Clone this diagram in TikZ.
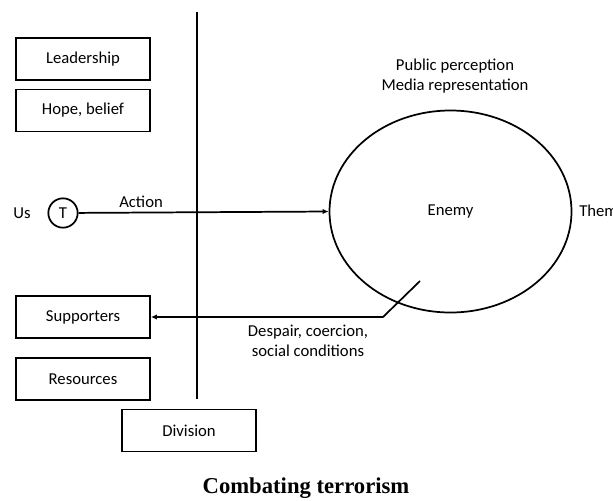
\documentclass[tikz,border=0pt]{standalone}
\usepackage{fontspec}
\setmainfont{Carlito}
\newfontfamily\capfont{Liberation Serif}
\usetikzlibrary{shapes.geometric,arrows.meta}

\begin{document}
\begin{tikzpicture}[x=0.75pt, y=-0.75pt, line width=1.3pt, font=\fontsize{12.5}{15}\selectfont,
    itembox/.style={rectangle, draw, minimum width=100.5pt, minimum height=31.5pt},
    tip/.style={-{Latex[length=4.5pt,width=4pt]}}]
  \useasboundingbox (0,0) rectangle (613,500);

  % Boxes on our side
  \node[itembox] (leadership) at (83,59) {Leadership};
  \node[itembox] (hope) at (83,110.5) {Hope, belief};
  \node[itembox] (supporters) at (83,317) {Supporters};
  \node[itembox] (resources) at (83,379) {Resources};
  \node[itembox] (division) at (189,430.5) {Division};

  % Division line
  \coordinate (linetop) at (197,12);
  \coordinate (linebot) at (197,399);
  \draw (linetop) -- (linebot);

  % Us
  \node (us) at (22,213) {Us};
  \node[circle, draw, minimum size=22pt, inner sep=0pt] (t) at (63,213) {T};

  % Enemy
  \node[ellipse, draw, minimum width=181.5pt, minimum height=151.5pt] (enemy) at (450.5,211.5) {Enemy};
  \node[anchor=west] (them) at (574,211) {Them};
  \node[align=center] (public) at (455,76) {Public perception\\Media representation};

  % Action
  \draw[tip] (t) -- node[above, pos=0.25] (action) {Action} (enemy.west);

  % Back to supporters
  \coordinate (despairstart) at (420,281);
  \coordinate (despairbend) at (383,317);
  \draw[tip] (despairstart) -- (despairbend) -- (supporters.east);
  \node[align=center] (despair) at (308,341) {Despair, coercion,\\social conditions};

  % Caption
  \node[font=\capfont\bfseries\fontsize{17}{19}\selectfont] (caption) at (306,488) {Combating terrorism};
\end{tikzpicture}
\end{document}
